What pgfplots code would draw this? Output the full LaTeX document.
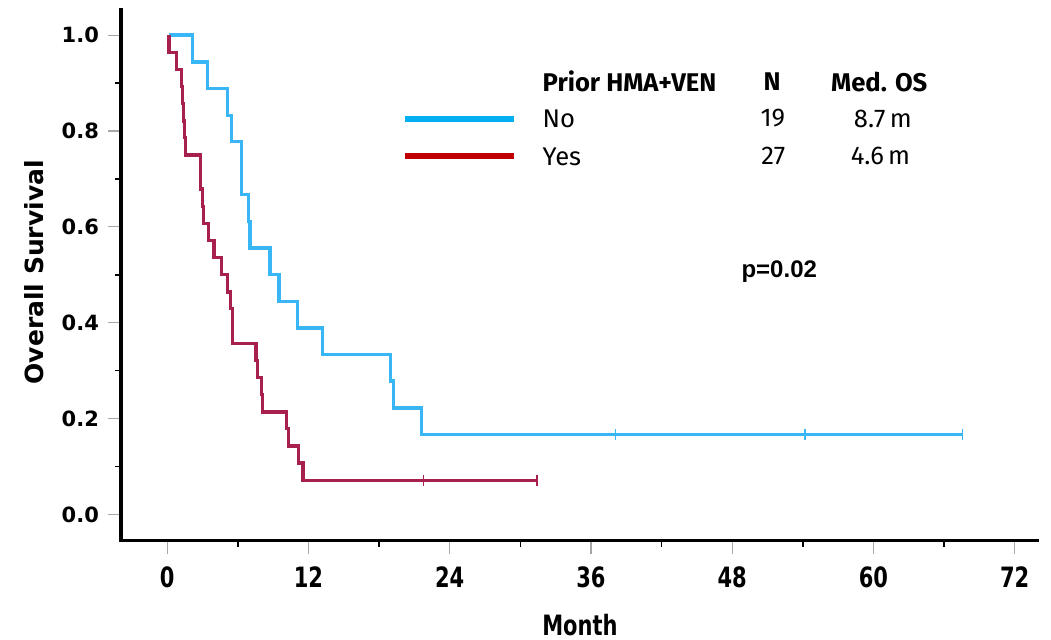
\documentclass[border=0pt]{standalone}
\usepackage{fontspec}
\setmainfont{DejaVu Sans}
\newfontfamily\ylabfont{DejaVu Sans}
\newfontfamily\xlabfont{DejaVu Sans}[FakeStretch=0.75]
\newfontfamily\legfont{Fira Sans}
\newfontfamily\pfont{Liberation Sans}
\usepackage{pgfplots}
\pgfplotsset{compat=1.18}

\definecolor{kmblue}{RGB}{56,182,245}
\definecolor{kmred}{RGB}{168,32,78}
\definecolor{legblue}{RGB}{0,176,240}
\definecolor{legred}{RGB}{192,0,0}

\begin{document}
\begin{tikzpicture}
\begin{axis}[
  name=ax,
  scale only axis,
  width=458pt, height=265.7pt,
  xmin=-3.93, xmax=73.9,
  ymin=-0.055, ymax=1.054,
  axis x line*=bottom, axis y line*=left,
  axis line style={line width=1.6pt, line cap=rect},
  xtick={0,12,...,72},
  minor xtick={6,18,...,66},
  ytick={0,0.2,...,1.0},
  minor ytick={0.1,0.3,0.5,0.7,0.9},
  tick align=outside,
  major tick length=6.5pt,
  minor tick length=3pt,
  major tick style={black!35, line width=0.6pt},
  minor tick style={black, line width=0.8pt},
  /pgf/number format/assume math mode=true,
  yticklabel style={font=\ylabfont\bfseries\fontsize{10.5}{12}\selectfont,
    xshift=-1pt,
    /pgf/number format/.cd, fixed, fixed zerofill, precision=1},
  xticklabel style={font=\xlabfont\bfseries\fontsize{14}{16}\selectfont, yshift=-3pt},
  xlabel={Month},
  ylabel={Overall Survival},
  xlabel style={font=\xlabfont\bfseries\fontsize{14}{16}\selectfont,
    at={(axis description cs:0.501,-0.158)}, anchor=center},
  ylabel style={font=\ylabfont\bfseries\fontsize{12.5}{14}\selectfont,
    at={(axis description cs:-0.095,0.505)}, anchor=center, rotate=0},
  clip=false,
]
% No prior HMA+VEN
\addplot[const plot, color=kmblue, line width=1.7pt] coordinates {
  (0.15,1.000) (2.16,0.944) (3.40,0.889) (5.13,0.833) (5.47,0.778)
  (6.29,0.667) (6.88,0.611) (7.03,0.556) (8.73,0.500) (9.49,0.444)
  (11.08,0.389) (13.20,0.333) (18.98,0.278) (19.20,0.222) (21.61,0.167)
  (67.58,0.167)
};
\addplot[only marks, mark=|, mark size=2.6pt, color=kmblue, mark options={line width=0.7pt}]
  coordinates {(38.1,0.167) (54.2,0.167) (67.58,0.167)};
% Prior HMA+VEN
\addplot[const plot, color=kmred, line width=1.7pt] coordinates {
  (0.15,1.000) (0.15,0.964) (0.80,0.929) (1.22,0.893) (1.30,0.857)
  (1.38,0.821) (1.46,0.786) (1.55,0.750) (2.82,0.714) (2.84,0.679)
  (2.97,0.643) (3.06,0.607) (3.48,0.571) (3.97,0.536) (4.62,0.500)
  (5.10,0.464) (5.39,0.429) (5.56,0.357) (7.54,0.321) (7.68,0.286)
  (8.02,0.250) (8.11,0.214) (10.14,0.179) (10.28,0.143) (11.13,0.107)
  (11.55,0.071) (31.4,0.071)
};
\addplot[only marks, mark=|, mark size=2.6pt, color=kmred, mark options={line width=0.7pt}]
  coordinates {(21.75,0.071) (31.4,0.071)};

% legend block
\draw[legblue, line width=3pt] (axis cs:20.2,0.826) -- (axis cs:29.5,0.826);
\draw[legred, line width=3pt] (axis cs:20.2,0.747) -- (axis cs:29.5,0.747);
\node[anchor=west, font=\legfont\bfseries\fontsize{12.8}{14}\selectfont] at (axis cs:31.3,0.903) {Prior HMA+VEN};
\node[anchor=center, font=\legfont\bfseries\fontsize{12.8}{14}\selectfont] at (axis cs:51.4,0.903) {N};
\node[anchor=center, font=\legfont\bfseries\fontsize{12.8}{14}\selectfont] at (axis cs:60.5,0.903) {Med. OS};
\node[anchor=west, font=\legfont\fontsize{12.8}{14}\selectfont] at (axis cs:31.3,0.826) {No};
\node[anchor=west, font=\legfont\fontsize{12.8}{14}\selectfont] at (axis cs:31.3,0.747) {Yes};
\node[anchor=east, font=\legfont\fontsize{12.8}{14}\selectfont] at (axis cs:53.1,0.826) {19};
\node[anchor=east, font=\legfont\fontsize{12.8}{14}\selectfont] at (axis cs:53.1,0.747) {27};
\node[anchor=center, font=\legfont\fontsize{12.8}{14}\selectfont] at (axis cs:60.8,0.826) {8.7\,m};
\node[anchor=center, font=\legfont\fontsize{12.8}{14}\selectfont] at (axis cs:60.6,0.747) {4.6\,m};
\node[anchor=center, font=\pfont\bfseries\fontsize{12}{14}\selectfont] at (axis cs:52.0,0.506) {p=0.02};
\end{axis}
\pgfresetboundingbox
\path[use as bounding box] ([xshift=-60.5pt,yshift=-49.15pt]ax.south west) rectangle ([xshift=7pt,yshift=4.65pt]ax.north east);
\end{tikzpicture}
\end{document}
